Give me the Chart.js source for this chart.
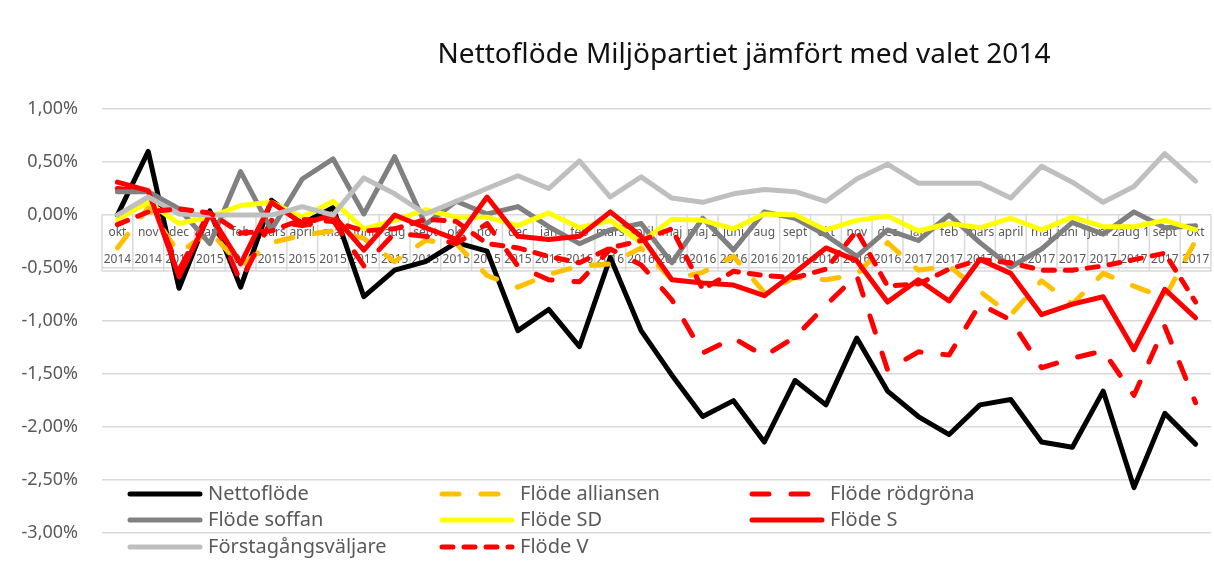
<!DOCTYPE html>
<html>
<head>
<meta charset="utf-8">
<script src="https://cdn.jsdelivr.net/npm/chart.js@4.4.1/dist/chart.umd.min.js"></script>
<style>
  html, body { margin: 0; padding: 0; background: #fff; }
  #wrap { width: 1214px; height: 568px; }
</style>
</head>
<body>
<div id="wrap"><canvas id="chart"></canvas></div>
<script>
// categories (month + year rows of the axis table)
const months = ["okt", "nov", "dec", "jan", "feb", "mars", "april", "maj", "juni", "aug", "sept", "okt",
    "nov", "dec", "jan", "feb", "mars", "april", "maj", "maj 2", "juni", "aug", "sept", "okt",
    "nov", "dec", "jan", "feb", "mars", "april", "maj", "juni 1", "juni 2", "aug 1", "sept", "okt"];
const years = ["2014", "2014", "2014", "2015", "2015", "2015", "2015", "2015", "2015", "2015", "2015", "2015",
    "2015", "2015", "2016", "2016", "2016", "2016", "2016", "2016", "2016", "2016", "2016", "2016",
    "2016", "2016", "2017", "2017", "2017", "2017", "2017", "2017", "2017", "2017", "2017", "2017"];

// series values in percent
const nettoflode = [0.00, 0.60, -0.69, 0.04, -0.68, 0.14, -0.08, 0.07, -0.77, -0.52, -0.44, -0.26,
    -0.34, -1.09, -0.89, -1.24, -0.40, -1.09, -1.51, -1.90, -1.75, -2.14, -1.56, -1.79,
    -1.16, -1.66, -1.90, -2.07, -1.79, -1.74, -2.14, -2.19, -1.66, -2.57, -1.87, -2.16];
const alliansen = [-0.31, 0.07, -0.36, -0.15, -0.48, -0.26, -0.19, -0.15, -0.22, -0.44, -0.24, -0.27,
    -0.57, -0.68, -0.56, -0.48, -0.46, -0.31, -0.61, -0.54, -0.39, -0.73, -0.59, -0.61,
    -0.56, -0.26, -0.52, -0.48, -0.72, -0.94, -0.62, -0.84, -0.55, -0.67, -0.78, -0.24];
const rodgrona = [0.25, 0.22, -0.52, 0.04, -0.63, -0.05, -0.10, -0.05, -0.48, -0.17, -0.20, -0.27,
    -0.08, -0.48, -0.61, -0.63, -0.32, -0.47, -0.80, -1.30, -1.16, -1.33, -1.15, -0.85,
    -0.57, -1.46, -1.29, -1.32, -0.84, -0.99, -1.44, -1.35, -1.28, -1.70, -1.05, -1.77];
const soffan = [0.22, 0.22, 0.06, -0.27, 0.41, -0.14, 0.34, 0.53, 0.01, 0.55, -0.09, 0.13,
    0.01, 0.08, -0.11, -0.27, -0.14, -0.08, -0.45, -0.03, -0.33, 0.03, -0.03, -0.19,
    -0.39, -0.14, -0.24, 0.00, -0.26, -0.49, -0.32, -0.07, -0.18, 0.03, -0.12, -0.10];
const sd = [-0.04, 0.12, -0.08, -0.02, 0.09, 0.12, -0.02, 0.13, -0.13, -0.05, 0.05, -0.02,
    -0.02, -0.10, 0.02, -0.12, -0.05, -0.26, -0.04, -0.05, -0.13, 0.01, 0.00, -0.14,
    -0.05, -0.01, -0.15, -0.08, -0.12, -0.03, -0.14, -0.02, -0.11, -0.11, -0.05, -0.14];
const flodeS = [0.31, 0.23, -0.58, 0.01, -0.46, 0.12, -0.08, 0.00, -0.33, 0.00, -0.12, -0.23,
    0.17, -0.20, -0.23, -0.20, 0.03, -0.20, -0.61, -0.64, -0.66, -0.76, -0.54, -0.31,
    -0.43, -0.82, -0.61, -0.81, -0.42, -0.55, -0.94, -0.84, -0.77, -1.27, -0.70, -0.97];
const forstagangs = [0.00, 0.17, 0.01, 0.00, 0.00, 0.00, 0.08, 0.00, 0.35, 0.20, 0.01, 0.13,
    0.25, 0.37, 0.25, 0.51, 0.17, 0.36, 0.16, 0.12, 0.20, 0.24, 0.22, 0.13,
    0.34, 0.48, 0.30, 0.30, 0.30, 0.16, 0.46, 0.31, 0.12, 0.27, 0.58, 0.32];
const flodeV = [-0.09, 0.03, 0.06, 0.02, -0.17, -0.15, -0.04, -0.06, -0.15, -0.13, -0.04, -0.06,
    -0.27, -0.31, -0.39, -0.45, -0.31, -0.24, -0.13, -0.70, -0.53, -0.57, -0.59, -0.51,
    -0.15, -0.67, -0.65, -0.51, -0.42, -0.45, -0.52, -0.52, -0.48, -0.42, -0.36, -0.82];

// y axis ticks
const yMin = -3, yMax = 1, yStep = 0.5;

const FONT = "'Noto Sans', 'Open Sans', sans-serif";
const TEXT = '#595959';
const GRID = '#d9d9d9';

function series(label, data, color, dash) {
    return {
        label: label,
        data: data,
        borderColor: color,
        borderWidth: 5,
        borderDash: dash || [],
        borderCapStyle: 'round',
        borderJoinStyle: 'round',
        pointRadius: 0,
        tension: 0,
        fill: false
    };
}

const datasets = [
    series("Nettoflöde", nettoflode, '#000000'),
    series("Flöde alliansen", alliansen, '#ffc000', [17, 22]),
    series("Flöde rödgröna", rodgrona, '#ff0000', [17, 22]),
    series("Flöde soffan", soffan, '#808080'),
    series("Flöde SD", sd, '#ffff00'),
    series("Flöde S", flodeS, '#ff0000'),
    series("Förstagångsväljare", forstagangs, '#bfbfbf'),
    series("Flöde V", flodeV, '#ff0000', [11, 11])
];
// later series on top, like the original
datasets.forEach((d, i) => d.order = datasets.length - i);

// title placed over the plot, offset to the right
const titlePlugin = {
    id: 'titleText',
    afterDraw(chart) {
        const ctx = chart.ctx;
        ctx.save();
        ctx.font = "28px " + FONT;
        ctx.fillStyle = '#111';
        ctx.textAlign = 'center';
        ctx.textBaseline = 'middle';
        ctx.fillText("Nettoflöde Miljöpartiet jämfört med valet 2014", 744, 55);
        ctx.restore();
    }
};

// two-row category table sitting on the zero line
const tablePlugin = {
    id: 'catTable',
    beforeDatasetsDraw(chart) {
        const ctx = chart.ctx;
        const x = chart.scales.x, y = chart.scales.y;
        const y0 = y.getPixelForValue(0);
        const h = 56;
        const half = (x.getPixelForValue(1) - x.getPixelForValue(0)) / 2;
        ctx.save();
        ctx.strokeStyle = GRID;
        ctx.lineWidth = 1.5;
        ctx.beginPath();
        for (let i = 0; i <= months.length; i++) {
            const px = x.getPixelForValue(i) - half;
            ctx.moveTo(px, y0);
            ctx.lineTo(px, y0 + h);
        }
        ctx.moveTo(chart.chartArea.left, y0 + h);
        ctx.lineTo(chart.chartArea.right, y0 + h);
        ctx.stroke();
        ctx.font = "12px " + FONT;
        ctx.fillStyle = TEXT;
        ctx.textAlign = 'center';
        ctx.textBaseline = 'middle';
        months.forEach((m, i) => {
            const px = x.getPixelForValue(i);
            ctx.fillText(m, px, y0 + 18);
            ctx.fillText(years[i], px, y0 + 45);
        });
        ctx.restore();
    }
};

// legend drawn inside the plot, three columns
const legendPlugin = {
    id: 'innerLegend',
    afterDraw(chart) {
        const ctx = chart.ctx;
        const cols = [128, 440, 750];
        const rows = [494, 520, 547];
        ctx.save();
        ctx.font = "20px " + FONT;
        ctx.textBaseline = 'middle';
        chart.data.datasets.forEach((ds, i) => {
            const cx = cols[i % 3], cy = rows[Math.floor(i / 3)];
            ctx.strokeStyle = ds.borderColor;
            ctx.lineWidth = ds.borderWidth;
            ctx.lineCap = 'round';
            ctx.setLineDash(ds.borderDash);
            ctx.beginPath();
            ctx.moveTo(cx + 2, cy);
            ctx.lineTo(cx + 72, cy);
            ctx.stroke();
            ctx.setLineDash([]);
            ctx.fillStyle = TEXT;
            ctx.fillText(ds.label, cx + 80, cy);
        });
        ctx.restore();
    }
};

new Chart(document.getElementById('chart'), {
    type: 'line',
    data: {
        labels: months.map((m, i) => [m, years[i]]),
        datasets: datasets
    },
    options: {
        responsive: true,
        maintainAspectRatio: false,
        animation: false,
        layout: { padding: { top: 109, right: 3, bottom: 10, left: 0 } },
        plugins: {
            legend: { display: false },
            title: { display: false },
            tooltip: { enabled: false }
        },
        scales: {
            x: {
                type: 'category',
                offset: true,
                display: false
            },
            y: {
                min: yMin,
                max: yMax,
                afterFit: (scale) => { scale.width = 102; },
                grid: { color: GRID, lineWidth: 1.5, drawTicks: false },
                border: { display: false },
                ticks: {
                    stepSize: yStep,
                    padding: 24,
                    color: TEXT,
                    font: { family: FONT, size: 18 },
                    callback: (v) => v.toFixed(2).replace('.', ',') + '%'
                }
            }
        }
    },
    plugins: [tablePlugin, titlePlugin, legendPlugin]
});
</script>
</body>
</html>
